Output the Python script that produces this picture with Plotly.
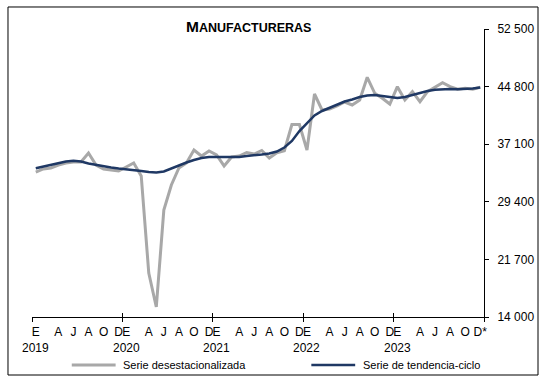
import plotly.graph_objects as go

years = [2019, 2020, 2021, 2022, 2023]
month_letters = ["E", "A", "J", "A", "O", "D"]
month_label_idx = [0, 3, 5, 7, 9, 11]

desest = [33380, 33790, 33920, 34320, 34590, 34720, 34720, 35920, 34320, 33790, 33650, 33520,
          34050, 34590, 32850, 19880, 15340, 28300, 31650, 33920, 34590, 36330, 35520, 36190,
          35660, 34190, 35390, 35520, 35990, 35790, 36260, 35260, 35960, 36230, 39730, 39730,
          36330, 43810, 41670, 41810, 42210, 42740, 42340, 43010, 46040, 43900, 43240, 42470,
          44790, 43010, 44120, 42780, 44120, 44710, 45320, 44790, 44440, 44570, 44440, 44710]

tendencia = [33880, 34120, 34390, 34590, 34790, 34890, 34790, 34520, 34320, 34120, 33990, 33850,
             33760, 33650, 33520, 33380, 33320, 33450, 33850, 34320, 34650, 34990, 35260, 35390,
             35390, 35320, 35320, 35390, 35520, 35590, 35720, 35860, 36120, 36660, 37530, 38860,
             39930, 40940, 41540, 41940, 42340, 42810, 43080, 43410, 43610, 43680, 43540, 43370,
             43280, 43410, 43680, 44010, 44210, 44390, 44480, 44480, 44440, 44480, 44550, 44680]

y_ticks = [14000, 21700, 29400, 37100, 44800, 52500]
y_ticktext = ["14 000", "21 700", "29 400", "37 100", "44 800", "52 500"]

series_names = ["Serie desestacionalizada", "Serie de tendencia-ciclo"]
series_colors = ["#A8A8A8", "#1F3864"]
series_widths = [3, 2.5]

n = len(desest)
x = list(range(n))

tickvals, ticktext = [], []
for yi, yr in enumerate(years):
    for m, lab in zip(month_label_idx, month_letters):
        tickvals.append(yi * 12 + m)
        ticktext.append(lab)
ticktext[-1] = "D*"
year_bounds = [yi * 12 - 0.5 for yi in range(len(years) + 1)]

font = "Liberation Sans, Arial, sans-serif"

fig = go.Figure()
for vals, name, col, w in zip([desest, tendencia], series_names, series_colors, series_widths):
    fig.add_trace(go.Scatter(x=x, y=vals, mode="lines", name=name,
                             line=dict(color=col, width=w), showlegend=False))
# invisible trace to carry the overlay axis with upward tick marks
fig.add_trace(go.Scatter(x=[x[0]], y=[desest[0]], xaxis="x2", mode="markers",
                         marker=dict(opacity=0), showlegend=False, hoverinfo="skip"))

fig.update_layout(
    width=547, height=382,
    margin=dict(l=32, r=63, t=29, b=65),
    paper_bgcolor="white", plot_bgcolor="white",
    font=dict(family=font, size=12, color="black"),
    showlegend=False,
    xaxis=dict(range=[-0.5, n - 0.5], tickmode="array", tickvals=tickvals, ticktext=ticktext,
               ticks="", showline=True, linecolor="black", linewidth=1, showgrid=False,
               zeroline=False, tickfont=dict(size=12), tickangle=0, automargin=False,
               ticklabelstandoff=4,
               minor=dict(tickmode="array", tickvals=year_bounds, ticks="outside",
                          ticklen=4, tickcolor="black", tickwidth=1, showgrid=False)),
    xaxis2=dict(range=[-0.5, n - 0.5], overlaying="x", anchor="y", side="bottom",
                tickmode="array", tickvals=year_bounds, ticks="inside", ticklen=4,
                tickcolor="black", showticklabels=False, showline=False, showgrid=False,
                zeroline=False, automargin=False),
    yaxis=dict(range=[y_ticks[0], y_ticks[-1]], side="right", tickmode="array",
               tickvals=y_ticks, ticktext=y_ticktext, ticks="outside", ticklen=4,
               tickcolor="black", showline=True, linecolor="black", linewidth=1,
               showgrid=False, zeroline=False, tickfont=dict(size=12), ticklabelstandoff=6,
               automargin=False),
)

for yi, yr in enumerate(years):
    fig.add_annotation(x=yi * 12, xref="x", y=-0.107, yref="paper", text=str(yr),
                       showarrow=False, font=dict(size=12, family=font),
                       xanchor="center", yanchor="middle")

# legend (drawn manually to match the reference layout)
leg_y = -0.167
leg_x = [0.088, 0.618]
for lx, name, col, w in zip(leg_x, series_names, series_colors, series_widths):
    fig.add_shape(type="line", xref="paper", yref="paper", x0=lx, x1=lx + 0.097,
                  y0=leg_y, y1=leg_y, line=dict(color=col, width=w))
    fig.add_annotation(x=lx + 0.11, xref="paper", y=leg_y, yref="paper", text=name,
                       showarrow=False, xanchor="left", yanchor="middle",
                       font=dict(size=11, family=font))

fig.add_annotation(x=0.478, xref="paper", y=1.008, yref="paper", yanchor="middle",
                   text="<b>M<span style='font-size:12.5px'>ANUFACTURERAS</span></b>",
                   showarrow=False, font=dict(size=15.5, family=font))

fig.add_shape(type="rect", xref="paper", yref="paper", x0=-0.0531, x1=1.1195,
              y0=-0.2014, y1=1.0764, line=dict(color="black", width=1), layer="below")

fig.write_html("out.html", config={"displayModeBar": False},
               post_script="document.body.style.margin='0';document.body.style.padding='0';")
